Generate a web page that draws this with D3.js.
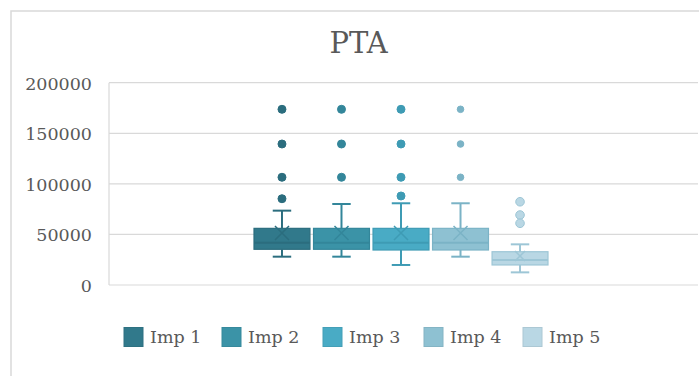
<!DOCTYPE html>
<html>
<head>
<meta charset="utf-8">
<script src="https://cdn.jsdelivr.net/npm/d3@7"></script>
<style>
  html, body { margin: 0; padding: 0; background: #fff; }
  svg { display: block; }
</style>
</head>
<body>
<svg id="chart" width="699" height="376"></svg>
<script>
// Series names and colours
const seriesNames = ["Imp 1", "Imp 2", "Imp 3", "Imp 4", "Imp 5"];
const seriesFill = ["#31798b", "#3b93a7", "#49abc5", "#8ec1d2", "#b9d7e4"];
const seriesLine = ["#2b6d7e", "#33869a", "#3e9bb4", "#7bb3c6", "#9dc6d6"];

// Five-number summaries per series
const whiskerLow = [28000, 28000, 19800, 28000, 12500];
const quartile1  = [35300, 35300, 34600, 34600, 19800];
const medians    = [41800, 41800, 41800, 41800, 24700];
const quartile3  = [56000, 56000, 56000, 56000, 32900];
const whiskerHigh= [73500, 80100, 80800, 80800, 40200];
const means      = [51400, 51400, 51400, 51400, 28700];

// Outlying points per series
const outliers = [
  [173700, 139400, 106500, 85300],
  [173700, 139400, 106500],
  [173700, 139400, 106500, 88000],
  [173700, 139400, 106500],
  [82300, 69200, 61000]
];

const yTicks = [0, 50000, 100000, 150000, 200000];

const svg = d3.select("#chart");
const textColor = "#595959";
const gridColor = "#d9d9d9";
const serif = "'DejaVu Serif', 'Liberation Serif', serif";

// Chart frame
svg.append("rect")
  .attr("x", 11).attr("y", 11)
  .attr("width", 720).attr("height", 400)
  .attr("fill", "none")
  .attr("stroke", gridColor)
  .attr("stroke-width", 1.5);

// Title
svg.append("text")
  .attr("x", 358.5).attr("y", 53)
  .attr("text-anchor", "middle")
  .attr("font-family", serif)
  .attr("font-size", 29)
  .attr("fill", textColor)
  .text("PTA");

const plot = { left: 109, right: 698, top: 82.7, bottom: 285 };

const y = d3.scaleLinear().domain([0, 200000]).range([plot.bottom, plot.top]);

// Gridlines
svg.append("g").selectAll("line")
  .data(yTicks)
  .join("line")
  .attr("x1", plot.left).attr("x2", plot.right)
  .attr("y1", d => y(d)).attr("y2", d => y(d))
  .attr("stroke", gridColor)
  .attr("stroke-width", 1.2);

svg.append("line")
  .attr("x1", plot.left).attr("x2", plot.left)
  .attr("y1", plot.top).attr("y2", plot.bottom)
  .attr("stroke", gridColor)
  .attr("stroke-width", 1.2);

// Y axis labels
const yAxis = d3.axisLeft(y).tickValues(yTicks).tickSize(0).tickPadding(0).tickFormat(d3.format("d"));
const yg = svg.append("g")
  .attr("transform", `translate(92,0)`)
  .call(yAxis);
yg.select(".domain").remove();
yg.selectAll("text")
  .attr("font-family", serif)
  .attr("font-size", 17.5)
  .attr("fill", textColor)
  .attr("dy", "0.36em");

// Series positions within the single category
const x = d3.scaleBand().domain(seriesNames).range([254, 548]).paddingInner(0.06);
const bw = x.bandwidth();

const boxes = svg.append("g");
seriesNames.forEach((name, i) => {
  const cx = x(name) + bw / 2;
  const g = boxes.append("g");
  const line = seriesLine[i];
  const cap = bw * 0.33;

  // Whiskers
  g.append("line")
    .attr("x1", cx).attr("x2", cx)
    .attr("y1", y(whiskerHigh[i])).attr("y2", y(quartile3[i]))
    .attr("stroke", line).attr("stroke-width", 2);
  g.append("line")
    .attr("x1", cx).attr("x2", cx)
    .attr("y1", y(quartile1[i])).attr("y2", y(whiskerLow[i]))
    .attr("stroke", line).attr("stroke-width", 2);
  [whiskerHigh[i], whiskerLow[i]].forEach(v => {
    g.append("line")
      .attr("x1", cx - cap / 2).attr("x2", cx + cap / 2)
      .attr("y1", y(v)).attr("y2", y(v))
      .attr("stroke", line).attr("stroke-width", 2);
  });

  // Box
  g.append("rect")
    .attr("x", x(name)).attr("width", bw)
    .attr("y", y(quartile3[i]))
    .attr("height", y(quartile1[i]) - y(quartile3[i]))
    .attr("fill", seriesFill[i])
    .attr("stroke", line).attr("stroke-width", 1.2);

  // Median
  g.append("line")
    .attr("x1", x(name)).attr("x2", x(name) + bw)
    .attr("y1", y(medians[i])).attr("y2", y(medians[i]))
    .attr("stroke", line).attr("stroke-width", 2);

  // Mean marker
  const m = i < 4 ? 7 : 5;
  const my = y(means[i]);
  g.append("path")
    .attr("d", `M${cx - m},${my - m}L${cx + m},${my + m}M${cx - m},${my + m}L${cx + m},${my - m}`)
    .attr("stroke", line).attr("stroke-width", 1.5).attr("fill", "none");

  // Outliers
  g.selectAll("circle")
    .data(outliers[i])
    .join("circle")
    .attr("cx", cx).attr("cy", d => y(d))
    .attr("r", i < 3 ? 4 : (i === 3 ? 3.3 : 4.3))
    .attr("fill", i < 4 ? line : seriesFill[i])
    .attr("stroke", line).attr("stroke-width", 1);
});

// Legend
const legendX = [124, 222, 323, 424, 523];
const legend = svg.append("g");
seriesNames.forEach((name, i) => {
  legend.append("rect")
    .attr("x", legendX[i]).attr("y", 327.5)
    .attr("width", 19).attr("height", 19)
    .attr("fill", seriesFill[i])
    .attr("stroke", d3.color(seriesFill[i]).darker(0.2)).attr("stroke-width", 1);
  legend.append("text")
    .attr("x", legendX[i] + 26).attr("y", 343)
    .attr("font-family", serif)
    .attr("font-size", 17.5)
    .attr("fill", textColor)
    .text(name);
});
</script>
</body>
</html>
